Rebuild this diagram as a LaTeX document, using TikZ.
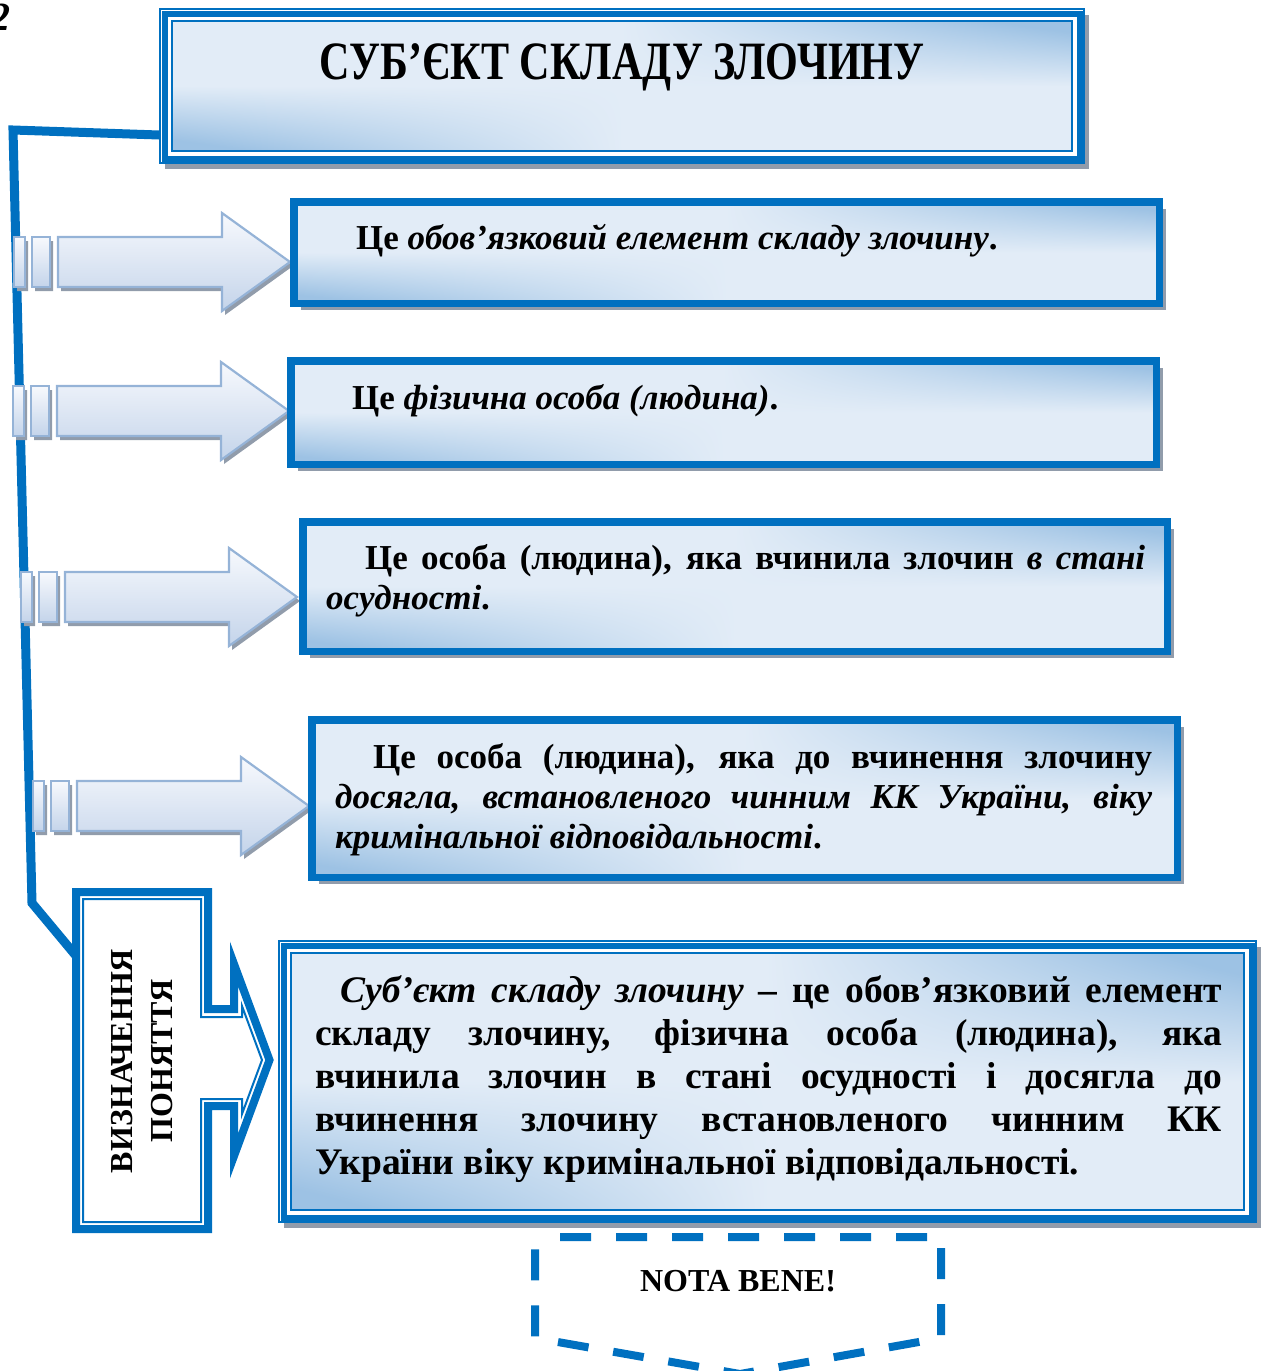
\documentclass[tikz,border=0pt]{standalone}
\usepackage{fontspec}
\setmainfont{Liberation Serif}
\usepackage{graphicx}
\usepackage{tikz}
\usetikzlibrary{shadows}
\definecolor{mainblue}{HTML}{0070C0}
\definecolor{arrowedge}{HTML}{95B3D7}
\definecolor{arrowtop}{HTML}{F7F9FD}
\definecolor{arrowlow}{HTML}{C4D4EA}
\definecolor{shadowgray}{HTML}{919CAB}
% light at top left and bottom right, darker towards the other two corners
\pgfdeclarefunctionalshading{boxshade}{\pgfpoint{0bp}{0bp}}{\pgfpoint{100bp}{100bp}}{}{
  50 sub exch 50 sub mul 520 div dup 0 lt {pop 0} if dup 1 gt {pop 1} if
  dup -0.27 mul 0.885 add exch dup -0.165 mul 0.925 add exch -0.075 mul 0.968 add}
\newcommand{\bodysize}{\fontsize{35}{40}\selectfont}
% striped block arrow: #1 = left x, #2 = centre y
\newcommand{\stripedarrow}[2]{%
  \begin{scope}[shift={(#1,#2)}]
    \fill[shadowgray] (3,-21) rectangle (14,29) (21,-21) rectangle (39,29)
      (47,-21) -- (211,-21) -- (211,-45) -- (279,4) -- (211,53) -- (211,29) -- (47,29) -- cycle;
    \draw[arrowpart] (0,-25) rectangle (11,25);
    \draw[arrowpart] (18,-25) rectangle (36,25);
    \draw[arrowpart] (44,-25) -- (208,-25) -- (208,-49) -- (276,0) -- (208,49) -- (208,25) -- (44,25) -- cycle;
  \end{scope}}

\begin{document}
\begin{tikzpicture}[x=1pt,y=-1pt,font=\bfseries,
    link/.style={draw=mainblue,line width=9pt},
    arrowpart/.style={draw=arrowedge,line width=2.2pt,top color=arrowtop,bottom color=arrowlow},
    card/.style={draw=mainblue,line width=7.5pt,shading=boxshade,inner sep=0pt,
      drop shadow={shadow xshift=7pt,shadow yshift=-7pt,fill=shadowgray,opacity=1}},
    framed/.style={draw=mainblue,line width=2pt,fill=white,inner sep=0pt,
      drop shadow={shadow xshift=5pt,shadow yshift=-6pt,fill=shadowgray,opacity=1}},
    txt/.style={inner sep=0pt,align=left,font=\bodysize\bfseries}]
  \useasboundingbox (0,0) rectangle (1264,1371);
  \node[anchor=base east,font=\fontsize{40}{44}\selectfont\bfseries\itshape] (num) at (14,30) {2};

  % title
  \node[framed,minimum width=924pt,minimum height=154pt] (title) at (622,86) {};
  \draw[mainblue,line width=6pt] ([shift={(5.5,5.5)}]title.north west) rectangle ([shift={(-5.5,-5.5)}]title.south east);
  \draw[mainblue,line width=1.8pt,shading=boxshade] ([shift={(13,13)}]title.north west) rectangle ([shift={(-13,-13)}]title.south east);
  \node[anchor=base,font=\fontsize{54}{60}\selectfont\bfseries] (ttl) at (622,79) {\scalebox{0.78}[1]{СУБ’ЄКТ СКЛАДУ ЗЛОЧИНУ}};

  % connector to the definition block
  \coordinate (vtop) at (77,957);
  \draw[link] ([yshift=29pt]title.south west) -- (13,130) -- (32,903) -- (vtop);

  % arrows
  \stripedarrow{14}{262}
  \stripedarrow{13}{411}
  \stripedarrow{21}{597}
  \stripedarrow{33}{806}

  % statements
  \node[card,minimum width=865.5pt,minimum height=101.5pt] (b1) at (726.5,252.5) {};
  \node[card,minimum width=865.5pt,minimum height=103.5pt] (b2) at (723.5,412.5) {};
  \node[card,minimum width=864.5pt,minimum height=129.5pt] (b3) at (735,586.5) {};
  \node[card,minimum width=865.5pt,minimum height=157.5pt] (b4) at (744.5,798.5) {};
  \node[txt,anchor=base west] (t1) at (356,249) {Це \textit{обов’язковий елемент складу злочину}.};
  \node[txt,anchor=base west] (t2) at (352,409) {Це \textit{фізична особа (людина)}.};
  \node[txt,anchor=north west] (t3) at (326,544) {\makebox[819pt][s]{\hspace*{39pt}Це особа (людина), яка вчинила злочин \textit{в стані}}\\
    \textit{осудності}.};
  \node[txt,anchor=north west] (t4) at (335,743) {\makebox[817pt][s]{\hspace*{38pt}Це особа (людина), яка до вчинення злочину}\\
    \makebox[817pt][s]{\textit{досягла, встановленого чинним КК України, віку}}\\
    \textit{кримінальної відповідальності}.};

  % definition
  \draw[mainblue,line width=8pt,fill=white] (76,892) -- (208,892) -- (208,1009) -- (234,1009) -- (234,964) -- (269.5,1060) -- (234,1156) -- (234,1106) -- (208,1106) -- (208,1229) -- (76,1229) -- cycle;
  \draw[mainblue,line width=2pt] (83,899) -- (201,899) -- (201,1017) -- (242,1017) -- (242,1006) -- (262,1060) -- (242,1114) -- (242,1099) -- (201,1099) -- (201,1222) -- (83,1222) -- cycle;
  \node[rotate=90,align=center,font=\fontsize{32}{40}\selectfont\bfseries] (vb) at (142,1061) {ВИЗНАЧЕННЯ\\ПОНЯТТЯ};

  \node[framed,minimum width=977pt,minimum height=281pt] (def) at (767.5,1081.5) {};
  \draw[mainblue,line width=6pt] ([shift={(5.5,5.5)}]def.north west) rectangle ([shift={(-5.5,-5.5)}]def.south east);
  \draw[mainblue,line width=1.8pt,shading=boxshade] ([shift={(13,13)}]def.north west) rectangle ([shift={(-13,-13)}]def.south east);
  \node[txt,anchor=north west,font=\fontsize{37.5}{43}\selectfont\bfseries] (t5) at (315,975) {\makebox[907pt][s]{\hspace*{25pt}\textit{Суб’єкт складу злочину} – це обов’язковий елемент}\\
    \makebox[907pt][s]{складу злочину, фізична особа (людина), яка}\\
    \makebox[907pt][s]{вчинила злочин в стані осудності і досягла до}\\
    \makebox[907pt][s]{вчинення злочину встановленого чинним КК}\\
    України віку кримінальної відповідальності.};

  % nota bene
  \node[font=\fontsize{32}{36}\selectfont\bfseries] (nb) at (738,1281) {NOTA BENE!};
  \draw[mainblue,line width=8pt,dash pattern=on 31pt off 25pt,dash phase=31pt] (535,1237) -- (941,1237) -- (941,1338) -- (740,1374) -- (535,1338) -- cycle;
\end{tikzpicture}
\end{document}
